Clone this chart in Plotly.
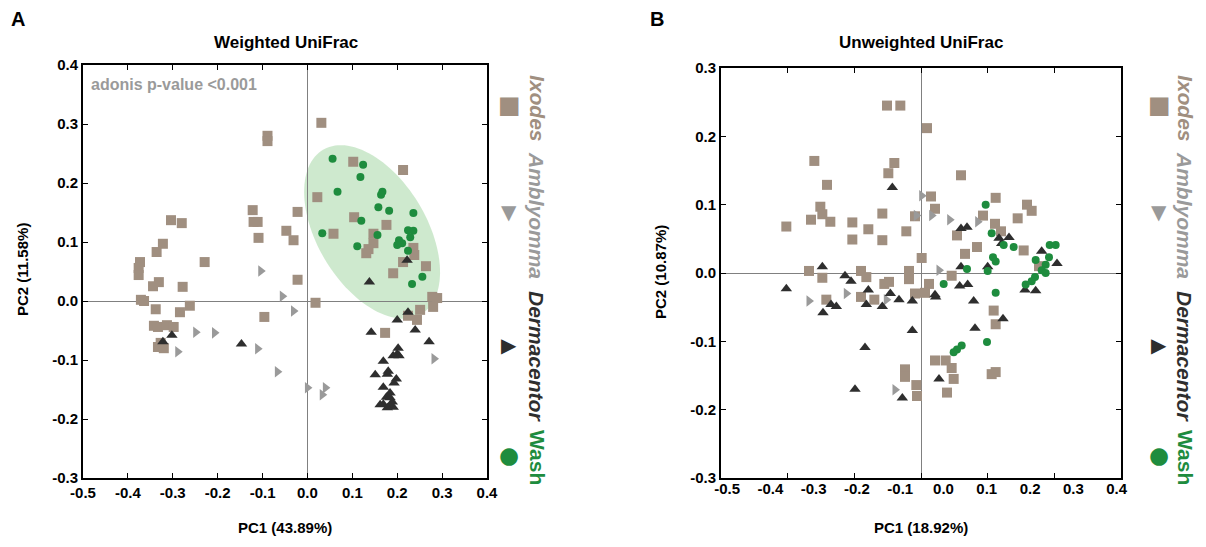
import plotly.graph_objects as go
import numpy as np

# ---------------- Data: Weighted UniFrac (panel A) ----------------
A_ixodes_x = [-0.089, -0.089, -0.122, -0.120, -0.111, -0.109, -0.022, -0.047, -0.031, -0.022,
              -0.304, -0.280, -0.322, -0.336, -0.373, -0.376, -0.376, -0.229, -0.331, -0.344,
              -0.278, -0.371, -0.364, -0.338, -0.284, -0.262, -0.342, -0.333, -0.313, -0.298,
              -0.327, -0.333, -0.320, -0.096, 0.031, 0.102, 0.213, 0.022, 0.104, 0.058,
              0.176, 0.147, 0.147, 0.136, 0.131, 0.236, 0.238, 0.213, 0.264, 0.191,
              0.018, 0.278, 0.289, 0.280, 0.251, 0.224, 0.244, 0.173]
A_ixodes_y = [0.280, 0.271, 0.154, 0.134, 0.134, 0.107, 0.151, 0.119, 0.103, 0.036,
              0.137, 0.132, 0.097, 0.083, 0.066, 0.056, 0.044, 0.066, 0.032, 0.025,
              0.024, 0.002, 0.000, -0.014, -0.019, -0.008, -0.042, -0.044, -0.041, -0.044,
              -0.071, -0.078, -0.080, -0.027, 0.302, 0.236, 0.222, 0.176, 0.142, 0.114,
              0.129, 0.114, 0.098, 0.088, 0.081, 0.090, 0.078, 0.066, 0.059, 0.047,
              -0.003, 0.007, 0.005, -0.010, -0.015, -0.025, -0.032, -0.054]

A_amblyomma_x = [-0.104, -0.249, -0.207, -0.289, -0.111, -0.067, -0.056, -0.031, 0.000, 0.040, 0.033, 0.282]
A_amblyomma_y = [0.051, -0.053, -0.054, -0.086, -0.081, -0.120, 0.008, -0.017, -0.147, -0.147, -0.159, -0.098]

A_derm_x = [-0.322, -0.302, -0.147, 0.222, 0.138, 0.224, 0.200, 0.142, 0.240, 0.271,
            0.202, 0.200, 0.204, 0.191, 0.169, 0.180, 0.151, 0.178, 0.198, 0.193,
            0.169, 0.184, 0.176, 0.184, 0.169, 0.162, 0.184, 0.191, 0.178, 0.189]
A_derm_y = [-0.069, -0.058, -0.073, 0.069, 0.032, -0.019, -0.032, -0.053, -0.049, -0.069,
            -0.080, -0.090, -0.093, -0.093, -0.102, -0.119, -0.125, -0.124, -0.132, -0.139,
            -0.146, -0.156, -0.163, -0.164, -0.175, -0.176, -0.178, -0.180, -0.181, -0.171]

A_wash_x = [0.056, 0.124, 0.118, 0.067, 0.167, 0.164, 0.158, 0.182, 0.236, 0.120, 0.033,
            0.156, 0.224, 0.236, 0.229, 0.204, 0.211, 0.200, 0.224, 0.111, 0.256, 0.233]
A_wash_y = [0.241, 0.231, 0.210, 0.185, 0.185, 0.180, 0.159, 0.153, 0.149, 0.136, 0.115,
            0.112, 0.120, 0.119, 0.108, 0.103, 0.098, 0.095, 0.085, 0.093, 0.041, 0.029]

# Wash ellipse (centre and two semi-axis vectors, data units)
ELL_CENTER = (0.144, 0.117)
ELL_U = (0.110, -0.139)
ELL_V = (0.104, 0.048)

# ---------------- Data: Unweighted UniFrac (panel B) ----------------
B_ixodes_x = [-0.051, -0.031, -0.160, -0.040, -0.049, -0.141, -0.151, -0.148, -0.165, -0.136,
              -0.058, -0.202, -0.103, -0.103, -0.079, -0.058, -0.022, -0.168, -0.148, -0.090,
              -0.082, -0.055, -0.048, -0.018, -0.018, -0.009, 0.009, 0.060, 0.015, 0.021,
              -0.009, 0.112, 0.159, 0.166, 0.093, 0.111, 0.145, 0.120, 0.054, 0.084,
              0.154, 0.066, 0.001, 0.046, 0.012, 0.177, 0.006, -0.142, -0.090, -0.070,
              -0.024, -0.024, -0.007, -0.006, 0.109, 0.112, 0.021, 0.037, 0.046, 0.049,
              0.039, 0.106, 0.112]
B_ixodes_y = [0.245, 0.245, 0.164, 0.161, 0.146, 0.129, 0.097, 0.086, 0.078, 0.075,
              0.087, 0.068, 0.074, 0.049, 0.064, 0.048, 0.061, 0.003, -0.007, 0.003,
              -0.006, -0.016, -0.013, 0.003, -0.009, -0.030, 0.212, 0.143, 0.112, 0.094,
              0.083, 0.110, 0.100, 0.091, 0.084, 0.072, 0.080, 0.061, 0.055, 0.038,
              0.033, 0.028, 0.022, -0.004, -0.016, 0.010, -0.029, -0.039, -0.035, -0.039,
              -0.141, -0.152, -0.164, -0.180, -0.055, -0.075, -0.128, -0.128, -0.139, -0.155,
              -0.175, -0.148, -0.145]

B_amblyomma_x = [-0.007, 0.001, 0.016, 0.043, 0.085, 0.027, -0.168, -0.112, -0.052, -0.039]
B_amblyomma_y = [0.084, 0.113, 0.084, 0.078, 0.075, 0.004, -0.041, -0.030, -0.039, -0.171]

B_derm_x = [-0.043, -0.148, -0.114, -0.105, -0.202, -0.079, -0.046, 0.060, 0.069, 0.117,
            0.132, 0.121, 0.181, 0.204, 0.060, 0.100, 0.058, 0.070, 0.156, 0.172,
            0.021, -0.033, -0.013, -0.082, -0.058, -0.135, -0.127, -0.147, -0.013, -0.084,
            -0.099, -0.028, 0.022, 0.079, 0.123, 0.081, 0.027]
B_derm_y = [0.125, 0.009, -0.004, -0.012, -0.023, -0.025, -0.030, 0.065, 0.067, 0.051,
            0.052, 0.043, 0.032, 0.014, 0.009, 0.009, -0.019, -0.017, -0.025, -0.026,
            -0.032, -0.039, -0.041, -0.046, -0.049, -0.046, -0.049, -0.058, -0.084, -0.109,
            -0.170, -0.183, -0.035, -0.041, -0.067, -0.081, -0.155]

B_wash_x = [0.097, 0.106, 0.124, 0.139, 0.108, 0.112, 0.069, 0.100, 0.193, 0.202,
            0.172, 0.192, 0.187, 0.181, 0.187, 0.171, 0.166, 0.157, 0.034, 0.112,
            0.099, 0.061, 0.054, 0.049]
B_wash_y = [0.100, 0.058, 0.041, 0.038, 0.023, 0.017, 0.006, 0.003, 0.041, 0.041,
            0.019, 0.023, 0.012, 0.004, 0.000, -0.006, -0.012, -0.017, -0.016, -0.029,
            -0.101, -0.106, -0.112, -0.116]

# Axis tick labels
A_xticks = [-0.5, -0.4, -0.3, -0.2, -0.1, 0.0, 0.1, 0.2, 0.3, 0.4]
A_yticks = [-0.3, -0.2, -0.1, 0.0, 0.1, 0.2, 0.3, 0.4]
B_xticktext = ["-0.5", "-0.4", "-0.3", "-0.2", "-0.1", "0.0", "0.1", "0.2", "0.3", "0.4"]
B_yticks = [-0.3, -0.2, -0.1, 0.0, 0.1, 0.2, 0.3]

# ---------------- Styles ----------------
C_IX = "#a08f80"
C_AM = "#9a9a9a"
C_DE = "#2e2e2e"
C_WA = "#1e8c3e"
FONT = "Liberation Sans"
W, H = 1206, 547


def px(x):
    return x / W


def py(y):
    return 1 - y / H


fig = go.Figure()


def add_groups(xa, ya, groups):
    for (gx, gy, sym, col, size) in groups:
        fig.add_trace(go.Scatter(x=gx, y=gy, mode="markers", xaxis=xa, yaxis=ya,
                                 marker=dict(symbol=sym, color=col, size=size, line=dict(width=0)),
                                 showlegend=False, hoverinfo="skip"))


add_groups("x", "y", [
    (A_ixodes_x, A_ixodes_y, "square", C_IX, 10),
    (A_amblyomma_x, A_amblyomma_y, "triangle-right", C_AM, 10),
    (A_derm_x, A_derm_y, "triangle-up", C_DE, 10),
    (A_wash_x, A_wash_y, "circle", C_WA, 8),
])
add_groups("x2", "y2", [
    (B_ixodes_x, B_ixodes_y, "square", C_IX, 10),
    (B_amblyomma_x, B_amblyomma_y, "triangle-right", C_AM, 10),
    (B_derm_x, B_derm_y, "triangle-up", C_DE, 10),
    (B_wash_x, B_wash_y, "circle", C_WA, 8),
])
# invisible trace to host the label-only overlay axis of panel B
fig.add_trace(go.Scatter(x=[0], y=[0], xaxis="x3", yaxis="y2", mode="markers",
                         marker=dict(opacity=0), showlegend=False, hoverinfo="skip"))

# ellipse
t = np.linspace(0, 2 * np.pi, 120)
ex = ELL_CENTER[0] + ELL_U[0] * np.cos(t) + ELL_V[0] * np.sin(t)
ey = ELL_CENTER[1] + ELL_U[1] * np.cos(t) + ELL_V[1] * np.sin(t)
path = "M " + " L ".join(f"{a:.4f},{b:.4f}" for a, b in zip(ex, ey)) + " Z"
fig.add_shape(type="path", path=path, xref="x", yref="y", layer="below",
              fillcolor="rgba(190,226,190,0.75)", line=dict(width=0))

tickfont = dict(family=FONT, size=15, color="black")
common = dict(showline=True, linewidth=2, linecolor="black", mirror="ticks",
              ticks="inside", ticklen=5, tickwidth=1, tickcolor="black",
              showgrid=False, zeroline=True, zerolinecolor="#808080", zerolinewidth=1,
              tickfont=tickfont, fixedrange=True, automargin=False)

ax_a = (px(83), px(487))
ax_b = (px(721), px(1121))
ay = (py(478), py(65))
ay_b = (py(478), py(68))

B_label_pos = [(728 + 43.3 * i - 922) / 667 for i in range(10)]

fig.update_layout(
    template="none",
    width=W, height=H, margin=dict(l=0, r=0, t=0, b=0, pad=0, autoexpand=False),
    paper_bgcolor="white", plot_bgcolor="white", showlegend=False,
    xaxis=dict(domain=ax_a, range=[-0.5, 0.4], tickvals=A_xticks,
               ticktext=[f"<b>{v:.1f}</b>" for v in A_xticks], anchor="y", **common),
    yaxis=dict(domain=ay, range=[-0.3, 0.4], tickvals=A_yticks,
               ticktext=[f"<b>{v:.1f}</b>" for v in A_yticks], anchor="x", **common),
    xaxis2=dict(domain=ax_b, range=[-0.3, 0.3], dtick=0.1, tick0=0, showticklabels=False,
                anchor="y2", **common),
    yaxis2=dict(domain=ay_b, range=[-0.3, 0.3], tickvals=B_yticks,
                ticktext=[f"<b>{v:.1f}</b>" for v in B_yticks], anchor="x2", **common),
    xaxis3=dict(overlaying="x2", range=[-0.3, 0.3], anchor="y2", side="bottom",
                tickvals=B_label_pos, ticktext=[f"<b>{s}</b>" for s in B_xticktext],
                ticks="", showline=False, showgrid=False, zeroline=False,
                tickfont=tickfont, fixedrange=True, automargin=False),
)

ann = []


def text(x, y, s, size=14, color="black", angle=0, xanchor="center", yanchor="middle", family=FONT):
    ann.append(dict(x=px(x), y=py(y), xref="paper", yref="paper", text=s, showarrow=False,
                    font=dict(family=family, size=size, color=color), textangle=angle,
                    xanchor=xanchor, yanchor=yanchor))


text(18, 19, "<b>A</b>", size=20)
text(657, 19, "<b>B</b>", size=20)
text(286, 42, "<b>Weighted UniFrac</b>", size=17)
text(921, 42, "<b>Unweighted UniFrac</b>", size=17)
text(285, 527, "<b>PC1 (43.89%)</b>", size=15)
text(921, 527, "<b>PC1 (18.92%)</b>", size=15)
text(22, 270, "<b>PC2 (11.58%)</b>", size=15, angle=-90)
text(660, 272, "<b>PC2 (10.87%)</b>", size=15, angle=-90)
text(89, 85, "<b>adonis p-value &lt;0.001</b>", size=16, color="#9a9a9a", xanchor="left")

# legends (rotated)
for lx, mx in [(537, 509), (1185, 1159)]:
    text(lx, 108, "<b><i>Ixodes</i></b>", size=21, color=C_IX, angle=90)
    text(lx, 215, "<b><i>Amblyomma</i></b>", size=21, color=C_AM, angle=90)
    text(lx, 356, "<b><i>Dermacentor</i></b>", size=21, color=C_DE, angle=90)
    text(lx, 457, "<b>Wash</b>", size=21, color=C_WA, angle=90)
    text(mx, 105, "■", size=24, color=C_IX, family="DejaVu Sans")
    text(mx, 212, "▼", size=20, color=C_AM, family="DejaVu Sans")
    text(mx, 345, "▶", size=20, color=C_DE, family="DejaVu Sans")
    text(mx, 455, "●", size=23, color=C_WA, family="DejaVu Sans")

fig.update_layout(annotations=ann)
fig.write_html("out.html", config={"displayModeBar": False, "staticPlot": True},
               post_script="document.body.style.margin='0';document.body.style.overflow='hidden';")
